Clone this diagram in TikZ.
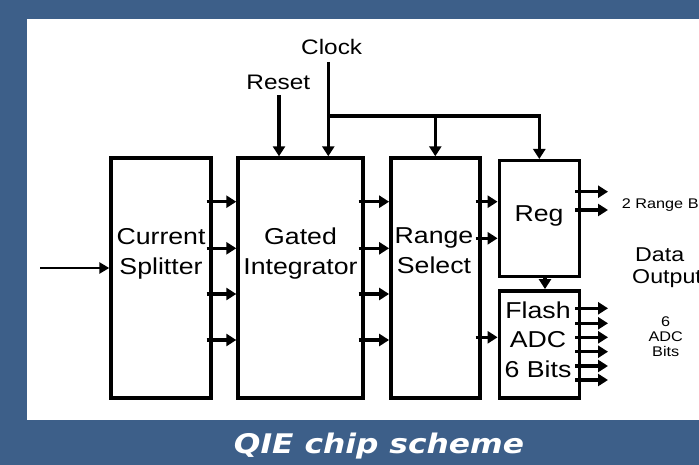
\documentclass[tikz,border=0pt]{standalone}
\usepackage{fontspec}
\setmainfont[FakeStretch=1.16]{Liberation Sans}
\newfontfamily\capfont[FakeStretch=1.16]{DejaVu Sans}
\usetikzlibrary{arrows.meta}
\definecolor{slideblue}{RGB}{61,95,137}

\begin{document}
\begin{tikzpicture}[x=1pt,y=-1pt,
  block/.style={draw,line width=3.4pt},
  lbl/.style={align=center,inner sep=0pt,font=\fontsize{23}{30}\selectfont},
  arr/.style={line width=3.1pt,-{Triangle[length=10pt,width=12pt]}},
  sig/.style={arr,shorten <=-6pt}]
  % slide background and white panel
  \useasboundingbox[fill=slideblue] (0,0) rectangle (699,465);
  \fill[white] (27,19) rectangle (699,420);
  % blocks
  \node[block,minimum width=100pt,minimum height=240pt] (cs) at (161,278) {};
  \node[block,minimum width=125pt,minimum height=240pt] (gi) at (300.5,278) {};
  \node[block,minimum width=89pt,minimum height=240pt] (rs) at (435.3,278) {};
  \node[block,minimum width=80pt,minimum height=116pt] (reg) at (539.3,218.7) {};
  \node[block,minimum width=80pt,minimum height=107pt] (adc) at (539.3,344.3) {};
  % block texts (base = last line)
  \node[lbl,anchor=base] (cstxt) at (161,275) {Current\\Splitter};
  \node[lbl,anchor=base] (gitxt) at (300.5,275) {Gated\\Integrator};
  \node[lbl,anchor=base] (rstxt) at (434,273) {Range\\Select};
  \node[lbl,anchor=base] (regtxt) at (539,221.7) {Reg};
  \node[lbl,anchor=base,font=\fontsize{23}{29.5}\selectfont] (adctxt) at (538,377) {Flash\\ADC\\6 Bits};
  % control inputs
  \node[lbl,anchor=base,font=\fontsize{21}{24}\selectfont] (clock) at (331.7,55) {Clock};
  \node[lbl,anchor=base,font=\fontsize{21}{24}\selectfont] (reset) at (278.3,90) {Reset};
  \coordinate (ctop) at (328.3,62);
  \coordinate (cbr) at (328.3,116);
  \coordinate (rtop) at (279,95);
  \draw[arr] (rtop) -- (rtop |- gi.north);
  \draw[arr] (ctop) -- (ctop |- gi.north);
  \draw[arr] (cbr) -| (reg.north);
  \draw[arr] (cbr -| rs.north) -- (rs.north);
  % signal input
  \coordinate (in) at (40,268);
  \draw[line width=2.6pt,-{Triangle[length=10pt,width=11pt]}] (in) -- (cs.west |- in);
  % block to block
  \foreach \y in {201.7,248.3,294,340} {
    \draw[sig] (cs.east |- 0,\y) -- (gi.west |- 0,\y);
    \draw[sig] (gi.east |- 0,\y) -- (rs.west |- 0,\y);
  }
  \foreach \y in {201.7,238.3} \draw[sig] (rs.east |- 0,\y) -- (reg.west |- 0,\y);
  \draw[sig] (rs.east |- 0,337.3) -- (adc.west |- 0,337.3);
  \draw[arr] (reg.south -| 545,0) -- (adc.north -| 545,0);
  % outputs
  \foreach \y in {191.7,210} \draw[sig] (reg.east |- 0,\y) -- ++(27,0);
  \foreach \y in {308.3,323.3,337.3,351.7,366,380} \draw[sig] (adc.east |- 0,\y) -- ++(27,0);
  \node[anchor=base west,inner sep=0pt,font=\fontsize{14}{16}\selectfont] (rbits) at (621.7,208.3) {2 Range Bits};
  \node[anchor=base west,inner sep=0pt,align=left,font=\fontsize{20}{21.6}\selectfont] (dout) at (632,283.3) {\hspace{3pt}Data\\Output};
  \node[align=center,inner sep=0pt,font=\fontsize{14}{15}\selectfont] (abits) at (665.7,337) {6\\ADC\\Bits};
  % caption
  \node[anchor=base,inner sep=0pt,text=white,font=\capfont\bfseries\itshape\fontsize{27}{30}\selectfont] (title) at (379,453) {QIE chip scheme};
\end{tikzpicture}
\end{document}
